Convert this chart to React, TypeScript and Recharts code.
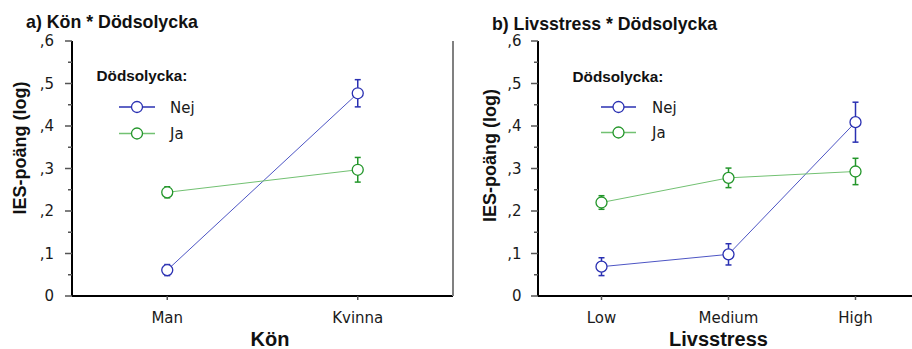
import React from 'react';
import { LineChart, Line, XAxis, YAxis, ErrorBar, Legend } from 'recharts';

// ---------- data ----------
const konCategories = ['Man', 'Kvinna'];
const konNej = [0.061, 0.477];
const konNejErr = [0.013, 0.032];
const konJa = [0.244, 0.297];
const konJaErr = [0.013, 0.029];

const stressCategories = ['Low', 'Medium', 'High'];
const stressNej = [0.069, 0.098, 0.409];
const stressNejErr = [0.021, 0.025, 0.047];
const stressJa = [0.22, 0.278, 0.293];
const stressJaErr = [0.016, 0.023, 0.031];

const seriesNames = ['Nej', 'Ja'];
const legendTitle = 'Dödsolycka:';
const yMajorTicks = [0, 0.1, 0.2, 0.3, 0.4, 0.5, 0.6];
const yMajorLabels = ['0', ',1', ',2', ',3', ',4', ',5', ',6'];
const yMinorTicks = [0.05, 0.15, 0.25, 0.35, 0.45, 0.55];
const yAxisTitle = 'IES-poäng (log)';
const panelTitles = ['a) Kön * Dödsolycka', 'b) Livsstress * Dödsolycka'];
const xAxisTitles = ['Kön', 'Livsstress'];

// ---------- styles ----------
const seriesStyles = [
  { key: 'nej', err: 'nejErr', line: '#4d55c4', dot: '#2a30b2' },
  { key: 'ja', err: 'jaErr', line: '#72c172', dot: '#23962a' },
];
const TICK_FONT = 'DejaVu Sans, Verdana, sans-serif';
const BOLD_FONT = 'Liberation Sans, Arial, Helvetica, sans-serif';

const allTicks = [...yMajorTicks, ...yMinorTicks].sort((a, b) => a - b);

const build = (cats: string[], nej: number[], nejErr: number[], ja: number[], jaErr: number[]) =>
  cats.map((c, i) => ({ cat: c, nej: nej[i], nejErr: nejErr[i], ja: ja[i], jaErr: jaErr[i] }));

const konData = build(konCategories, konNej, konNejErr, konJa, konJaErr);
const stressData = build(stressCategories, stressNej, stressNejErr, stressJa, stressJaErr);

const makeYTick = (side: 'left' | 'right', labelGap: number) => (props: any) => {
  const { x, y, payload } = props;
  const v = payload.value;
  const idx = yMajorTicks.findIndex((t) => Math.abs(t - v) < 1e-6);
  const major = idx >= 0;
  const len = major ? 7 : 4;
  const dir = side === 'left' ? -1 : 1;
  return (
    <g>
      <line x1={x} x2={x + dir * len} y1={y} y2={y} stroke="#555" strokeWidth={1.5} />
      {side === 'left' && major && (
        <text
          x={x - labelGap}
          y={y}
          dy="0.36em"
          textAnchor="end"
          fontFamily={TICK_FONT}
          fontSize={15}
          fill="#1a1a1a"
        >
          {yMajorLabels[idx]}
        </text>
      )}
    </g>
  );
};

type LegendLayout = {
  left: number;
  top: number;
  titleX: number;
  titleY: number;
  lineX1: number;
  lineX2: number;
  textX: number;
  rows: number[];
};

const makeLegend = (L: LegendLayout) => () => (
  <svg width={160} height={100} style={{ display: 'block', overflow: 'visible' }}>
    <text
      x={L.titleX - L.left}
      y={L.titleY - L.top}
      fontFamily={BOLD_FONT}
      fontWeight="bold"
      fontSize={15.3}
      fill="#111"
    >
      {legendTitle}
    </text>
    {seriesNames.map((name, i) => {
      const s = seriesStyles[i];
      const y = L.rows[i] - L.top;
      const x1 = L.lineX1 - L.left;
      const x2 = L.lineX2 - L.left;
      return (
        <g key={name}>
          <line x1={x1} x2={x2} y1={y} y2={y} stroke={i === 0 ? s.dot : s.line} strokeWidth={1.5} />
          <circle cx={(x1 + x2) / 2} cy={y} r={5.5} fill="#fff" stroke={s.dot} strokeWidth={1.3} />
          <text x={L.textX - L.left} y={y + 5.5} fontFamily={TICK_FONT} fontSize={15} fill="#1a1a1a">
            {name}
          </text>
        </g>
      );
    })}
  </svg>
);

type PanelProps = {
  data: any[];
  left: number;
  width: number;
  yAxisWidth: number;
  labelGap: number;
  legend: LegendLayout;
};

function Panel({ data, left, width, yAxisWidth, labelGap, legend }: PanelProps) {
  return (
    <div style={{ position: 'absolute', left, top: 0 }}>
      <LineChart width={width} height={349} data={data} margin={{ top: 41, right: 0, bottom: 0, left: 0 }}>
        <XAxis
          dataKey="cat"
          xAxisId="b"
          orientation="bottom"
          scale="band"
          height={53}
          interval={0}
          axisLine={{ stroke: '#000', strokeWidth: 2 }}
          tickLine={{ stroke: '#555', strokeWidth: 1.5 }}
          tickSize={4}
          tickMargin={12}
          tick={{ fill: '#1a1a1a', fontSize: 15, fontFamily: TICK_FONT }}
        />
        <XAxis
          dataKey="cat"
          xAxisId="t"
          orientation="top"
          scale="band"
          height={0}
          interval={0}
          axisLine={{ stroke: '#808080', strokeWidth: 2 }}
          tickLine={{ stroke: '#666', strokeWidth: 1.5 }}
          tickSize={4}
          tick={false}
        />
        <YAxis
          yAxisId="l"
          type="number"
          domain={[0, 0.6]}
          ticks={allTicks}
          interval={0}
          width={yAxisWidth}
          axisLine={{ stroke: '#000', strokeWidth: 2 }}
          tickLine={false}
          tickSize={0}
          tickMargin={0}
          tick={makeYTick('left', labelGap)}
        />
        <YAxis
          yAxisId="r"
          orientation="right"
          type="number"
          domain={[0, 0.6]}
          ticks={allTicks}
          interval={0}
          width={3}
          axisLine={{ stroke: '#808080', strokeWidth: 2 }}
          tickLine={false}
          tickSize={0}
          tickMargin={0}
          tick={makeYTick('right', 0)}
        />
        <Legend
          layout="horizontal"
          verticalAlign="middle"
          align="center"
          content={makeLegend(legend)}
          wrapperStyle={{ left: legend.left, top: legend.top, width: 160, height: 100 }}
        />
        {seriesStyles.map((s, i) => (
          <Line
            key={s.key}
            xAxisId="b"
            yAxisId="l"
            type="linear"
            dataKey={s.key}
            name={seriesNames[i]}
            stroke={s.line}
            strokeWidth={1}
            dot={{ r: 5.5, fill: '#fff', stroke: s.dot, strokeWidth: 1.3 }}
            isAnimationActive={false}
          >
            <ErrorBar dataKey={s.err} direction="y" width={3} stroke={s.dot} strokeWidth={1.5} />
          </Line>
        ))}
      </LineChart>
    </div>
  );
}

export default function App() {
  return (
    <div
      style={{
        position: 'absolute',
        left: 0,
        top: 0,
        width: 912,
        height: 349,
        overflow: 'hidden',
        background: '#fff',
      }}
    >
      <Panel
        data={konData}
        left={0}
        width={456}
        yAxisWidth={72}
        labelGap={18}
        legend={{ left: 90, top: 60, titleX: 96.5, titleY: 80.7, lineX1: 119, lineX2: 155, textX: 170, rows: [107, 133.5] }}
      />
      <Panel
        data={stressData}
        left={456}
        width={466}
        yAxisWidth={82}
        labelGap={16.5}
        legend={{ left: 110, top: 60, titleX: 116.5, titleY: 81.5, lineX1: 145, lineX2: 180, textX: 196, rows: [107, 132.5] }}
      />
      <svg width={912} height={349} style={{ position: 'absolute', left: 0, top: 0, pointerEvents: 'none' }}>
        <text x={26} y={28.3} fontFamily={BOLD_FONT} fontWeight="bold" fontSize={17.8} fill="#111">
          {panelTitles[0]}
        </text>
        <text x={492} y={29.5} fontFamily={BOLD_FONT} fontWeight="bold" fontSize={17.7} fill="#111">
          {panelTitles[1]}
        </text>
        <text
          x={26}
          y={148}
          transform="rotate(-90 26 148)"
          textAnchor="middle"
          fontFamily={BOLD_FONT}
          fontWeight="bold"
          fontSize={18}
          fill="#111"
        >
          {yAxisTitle}
        </text>
        <text
          x={496}
          y={155.5}
          transform="rotate(-90 496 155.5)"
          textAnchor="middle"
          fontFamily={BOLD_FONT}
          fontWeight="bold"
          fontSize={18}
          fill="#111"
        >
          {yAxisTitle}
        </text>
        <text x={270} y={346} textAnchor="middle" fontFamily={BOLD_FONT} fontWeight="bold" fontSize={20} fill="#111">
          {xAxisTitles[0]}
        </text>
        <text x={718.5} y={346} textAnchor="middle" fontFamily={BOLD_FONT} fontWeight="bold" fontSize={20} fill="#111">
          {xAxisTitles[1]}
        </text>
      </svg>
    </div>
  );
}
